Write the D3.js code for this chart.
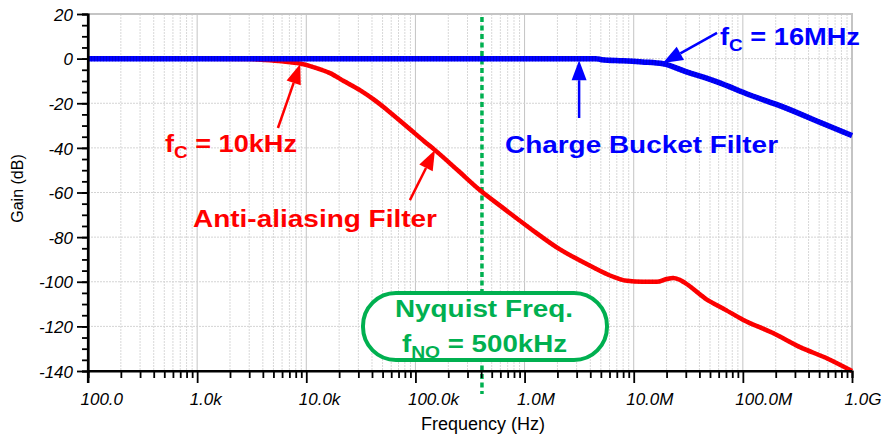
<!DOCTYPE html>
<html>
<head>
<meta charset="utf-8">
<script src="https://cdn.jsdelivr.net/npm/d3@7"></script>
<style>
  body { margin: 0; background: #fff; }
  svg { display: block; font-family: "Liberation Sans", Arial, sans-serif; }
</style>
</head>
<body>
<div id="chart"></div>
<script>
// ---- data ----
const decadeTicks = [1e2, 1e3, 1e4, 1e5, 1e6, 1e7, 1e8, 1e9];
const decadeLabels = ["100.0", "1.0k", "10.0k", "100.0k", "1.0M", "10.0M", "100.0M", "1.0G"];
const gainTicks = [20, 0, -20, -40, -60, -80, -100, -120, -140];

// anti-aliasing filter (red)
const aaFreq = [100, 1000, 3000, 4200, 6000, 8800, 12000, 16500, 22000, 31000, 42000, 55000, 75000,
  95000, 120000, 151000, 250000, 391000, 600000, 1120000, 2110000, 3220000, 4240000, 6070000,
  8700000, 12000000, 16300000, 20000000, 23000000, 26000000, 29500000, 45000000, 70000000,
  100000000, 189000000, 334000000, 600000000, 1000000000];
const aaGain = [0, 0, -0.2, -0.6, -1.2, -2.2, -4, -6.5, -10, -14.1, -18.5, -23, -28.5,
  -32.8, -37, -41, -50.5, -59, -66, -76, -85.5, -90.5, -93.5, -97.2,
  -99.6, -100, -100, -98.8, -98.3, -99, -100.5, -107.4, -112.7,
  -117, -123, -129.3, -134.5, -140];

// charge bucket filter (blue)
const cbFreq = [100, 1000000, 4500000, 5100000, 8000000, 12000000, 18600000, 30000000,
  58000000, 116000000, 233000000, 500000000, 1000000000];
const cbGain = [0, 0, 0, -0.5, -1, -1.5, -2.3, -5.8, -10.4, -16.3, -21.6, -28.4, -34.5];

const nyquistFreq = 407000;

// ---- layout ----
const width = 882, height = 436;
const plotL = 88, plotR = 852, plotT = 14, plotB = 371;
const red = "#ff0000", blue = "#0000ff", green = "#00b050";

const x = d3.scaleLog().domain([1e2, 1e9]).range([plotL, plotR]);
const y = d3.scaleLinear().domain([-140, 20]).range([plotB, plotT]);

const svg = d3.select("#chart").append("svg")
  .attr("width", width)
  .attr("height", height);

// grid
const minorFreqs = [];
for (let d = 2; d < 9; d++) {
  for (let m = 2; m <= 9; m++) minorFreqs.push(m * Math.pow(10, d));
}
const grid = svg.append("g");
grid.selectAll("line.vminor")
  .data(minorFreqs)
  .join("line")
  .attr("x1", d => x(d)).attr("x2", d => x(d))
  .attr("y1", plotT).attr("y2", plotB)
  .attr("stroke", "#d8d8d8")
  .attr("stroke-dasharray", "2,1");
grid.selectAll("line.vmajor")
  .data(decadeTicks.slice(1, -1))
  .join("line")
  .attr("x1", d => x(d)).attr("x2", d => x(d))
  .attr("y1", plotT).attr("y2", plotB)
  .attr("stroke", "#c4c4c4");
grid.selectAll("line.h")
  .data(gainTicks.slice(1, -1))
  .join("line")
  .attr("x1", plotL).attr("x2", plotR)
  .attr("y1", d => y(d)).attr("y2", d => y(d))
  .attr("stroke", "#d4d4d4")
  .attr("stroke-dasharray", "2,1");

// frame top / right
svg.append("path")
  .attr("d", `M${plotL},${plotT}H${plotR}V${plotB}`)
  .attr("fill", "none")
  .attr("stroke", "#c4c4c4")
  .attr("stroke-width", 2);

// nyquist dashed line
svg.append("line")
  .attr("x1", x(nyquistFreq)).attr("x2", x(nyquistFreq))
  .attr("y1", plotT + 3).attr("y2", plotB + 23)
  .attr("stroke", green)
  .attr("stroke-width", 3.5)
  .attr("stroke-dasharray", "5,3.5");

// curves
const line = d3.line()
  .x(d => x(d[0]))
  .y(d => y(d[1]))
  .curve(d3.curveMonotoneX);

const aaData = aaFreq.map((f, i) => [f, aaGain[i]]);
const cbData = cbFreq.map((f, i) => [f, cbGain[i]]);

svg.append("path")
  .datum(aaData)
  .attr("d", line)
  .attr("fill", "none")
  .attr("stroke", red)
  .attr("stroke-width", 4.5);
svg.append("path")
  .datum(aaData)
  .attr("d", line)
  .attr("fill", "none")
  .attr("stroke", "#d00000")
  .attr("stroke-width", 4.5)
  .attr("stroke-dasharray", "1,2.5")
  .attr("opacity", 0.3);

svg.append("path")
  .datum(cbData)
  .attr("d", line)
  .attr("fill", "none")
  .attr("stroke", blue)
  .attr("stroke-width", 5.5);
svg.append("path")
  .datum(cbData)
  .attr("d", line)
  .attr("fill", "none")
  .attr("stroke", "#0000a8")
  .attr("stroke-width", 5.5)
  .attr("stroke-dasharray", "1,2")
  .attr("opacity", 0.45);

// axes
const xMinor = d3.axisBottom(x).tickValues(minorFreqs).tickSize(7).tickFormat("");
const xMajor = d3.axisBottom(x).tickValues(decadeTicks).tickSize(12)
  .tickFormat((d, i) => decadeLabels[i]);
const yMinor = d3.axisLeft(y).tickValues(d3.range(-140, 21, 5)).tickSize(6).tickFormat("");
const yMajor = d3.axisLeft(y).tickValues(gainTicks).tickSize(11).tickFormat(d => d);

svg.append("g").attr("transform", `translate(0,${plotB})`).call(xMinor);
const gx = svg.append("g").attr("transform", `translate(0,${plotB})`).call(xMajor);
svg.append("g").attr("transform", `translate(${plotL},0)`).call(yMinor);
const gy = svg.append("g").attr("transform", `translate(${plotL},0)`).call(yMajor);

svg.selectAll(".domain").attr("stroke", "#000").attr("stroke-width", 2.2);
svg.selectAll(".tick line").attr("stroke", "#000").attr("stroke-width", 1.8);

gx.select(".domain").attr("d", `M${plotL},0H${plotR}`);
gx.selectAll(".tick text")
  .attr("text-anchor", "start")
  .attr("x", -8)
  .attr("y", 34)
  .attr("dy", 0)
  .attr("font-size", 17)
  .attr("font-style", "italic")
  .attr("font-family", "Liberation Sans, Arial, sans-serif")
  .attr("fill", "#000");
gy.select(".domain").attr("d", `M0,${plotT}V${plotB + 12}`);
gy.selectAll(".tick text")
  .attr("x", -15)
  .attr("dy", "0.36em")
  .attr("font-size", 17)
  .attr("font-style", "italic")
  .attr("font-family", "Liberation Sans, Arial, sans-serif")
  .attr("fill", "#000");

// axis titles
svg.append("text")
  .attr("transform", `translate(23,${(plotT + plotB) / 2 - 4}) rotate(-90)`)
  .attr("text-anchor", "middle")
  .attr("font-size", 16)
  .text("Gain (dB)");
svg.append("text")
  .attr("x", 483)
  .attr("y", 430)
  .attr("text-anchor", "middle")
  .attr("font-size", 18)
  .text("Frequency (Hz)");

// arrows (data coordinates: tail -> tip)
const arrows = [
  { from: [5500, -31.1], to: [8800, -2.4], color: red },
  { from: [89000, -63.4], to: [151000, -41], color: red },
  { from: [3160000, -26.6], to: [3160000, -0.7], color: blue },
  { from: [58000000, 11.5], to: [18500000, -2.0], color: blue }
];
arrows.forEach(a => {
  const x1 = x(a.from[0]), y1 = y(a.from[1]);
  const x2 = x(a.to[0]), y2 = y(a.to[1]);
  const ang = Math.atan2(y2 - y1, x2 - x1);
  const len = 20, half = 7.5;
  const bx = x2 - len * Math.cos(ang), by = y2 - len * Math.sin(ang);
  svg.append("line")
    .attr("x1", x1).attr("y1", y1).attr("x2", bx).attr("y2", by)
    .attr("stroke", a.color).attr("stroke-width", 2.5);
  const px = -Math.sin(ang) * half, py = Math.cos(ang) * half;
  svg.append("path")
    .attr("d", `M${x2},${y2}L${bx + px},${by + py}L${bx - px},${by - py}Z`)
    .attr("fill", a.color);
});

// labels
function label(tx, ty, parts, color, len) {
  const t = svg.append("text")
    .attr("x", tx).attr("y", ty)
    .attr("font-weight", "bold")
    .attr("font-size", 23)
    .attr("fill", color);
  parts.forEach(p => {
    const s = t.append("tspan").text(p.text);
    if (p.sub) s.attr("font-size", 16).attr("dy", 6);
    else if (p.after) s.attr("dy", -6);
  });
  if (len) t.attr("textLength", len).attr("lengthAdjust", "spacingAndGlyphs");
}
label(165, 152, [{ text: "f" }, { text: "C", sub: true }, { text: " = 10kHz", after: true }], red, 132);
label(193, 227, [{ text: "Anti-aliasing Filter" }], red, 244);
label(505, 153, [{ text: "Charge Bucket Filter" }], blue, 273);
label(720, 45, [{ text: "f" }, { text: "C", sub: true }, { text: " = 16MHz", after: true }], blue, 140);

// nyquist box
svg.append("rect")
  .attr("x", 363).attr("y", 293)
  .attr("width", 244).attr("height", 67)
  .attr("rx", 33).attr("ry", 33)
  .attr("fill", "#fff")
  .attr("stroke", green)
  .attr("stroke-width", 4);
label(395, 317, [{ text: "Nyquist Freq." }], green, 178);
label(402, 352, [{ text: "f" }, { text: "NQ", sub: true }, { text: " = 500kHz", after: true }], green, 165);
</script>
</body>
</html>
